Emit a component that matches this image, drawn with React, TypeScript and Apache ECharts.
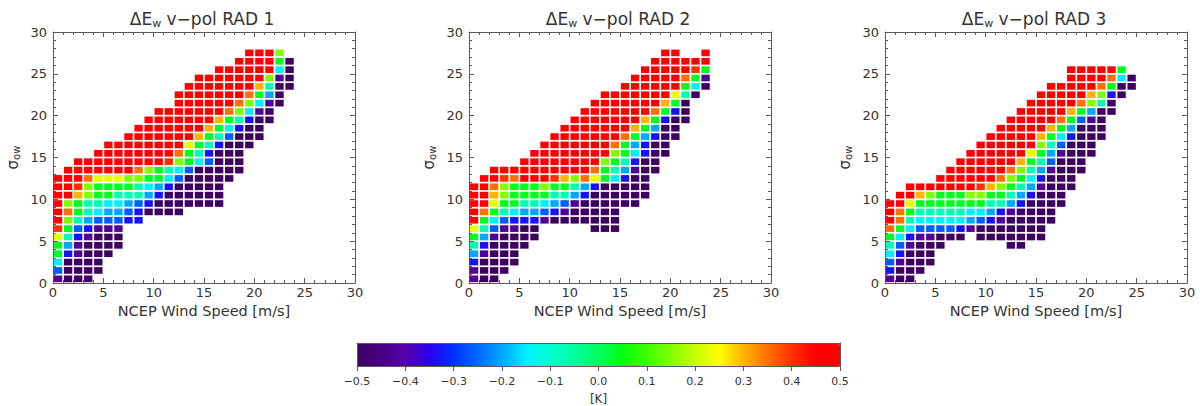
import React, { useEffect, useRef } from "react";
import * as echarts from "echarts";

// colour levels (in K)
const P = -0.5, V = -0.42, B = -0.33, M = -0.26, L = -0.2, C = -0.15, A = -0.07;
const G = 0.04, Y1 = 0.15, Y = 0.23, O1 = 0.3, O = 0.35, R1 = 0.4, R = 0.5;

// each row: [sigma bin, first wind-speed bin, values...]
type Row = [number, number, number[]];

const rad1Rows: Row[] = [
  [0, 0, [V, P, P, P]],
  [1, 0, [M, P, P, P, P]],
  [2, 0, [C, P, P, P, P]],
  [3, 0, [G, B, V, P, P, P]],
  [4, 0, [G, L, V, P, P, P, P]],
  [5, 0, [Y, A, B, V, P, P, P]],
  [6, 0, [R1, G, M, B, V, V, V]],
  [7, 0, [R, Y1, A, L, M, M, M, B, B]],
  [8, 0, [R, O, G, A, C, L, L, M, B, P, P, P, P]],
  [9, 0, [R, Y1, G, A, A, C, C, L, M, B, P, P, P, P, P, P, P]],
  [10, 0, [R, R, O1, Y1, G, G, A, A, A, L, B, P, P, P, P, P, P]],
  [11, 0, [R, R, R1, Y1, G, G, G, G, A, C, L, B, P, P, P, P, P]],
  [12, 0, [R, R, R, O, Y, Y, Y, Y1, Y1, G, G, C, M, P, P, P, P, P]],
  [13, 1, [R, R, R, R, R, R, R, O, Y1, G, A, C, M, P, P, P, P, P]],
  [14, 2, [R, R, R, R, R, R, R, R, R, R1, Y1, G, C, M, P, P, P]],
  [15, 4, [R, R, R, R, R, R, R, R, O, G, A, B, P, P, P]],
  [16, 5, [R, R, R, R, R, R, R, R, Y, G, A, B, P, P, P]],
  [17, 7, [R, R, R, R, R, R, R, O1, G, A, M, P, P, P]],
  [18, 8, [R, R, R, R, R, R, R, O1, G, C, B, P, P]],
  [19, 9, [R, R, R, R, R, R, R, O1, G, A, B, P, P]],
  [20, 10, [R, R, R, R, R, R, R, O, Y1, C, V, P]],
  [21, 12, [R, R, R, R, R, R, O, Y1, C, V, P]],
  [22, 12, [R, R, R, R, R, R, R, O, G, L, P]],
  [23, 13, [R, R, R, R, R, R, R, O1, A, P, P]],
  [24, 14, [R, R, R, R, R, R, R, Y1, V, P]],
  [25, 16, [R, R, R, R, R, R, C, P]],
  [26, 18, [R, R, R, R, G, P]],
  [27, 19, [R, R, R, Y1]],
];

const rad2Rows: Row[] = [
  [0, 0, [V, P, P]],
  [1, 0, [V, P, P, P]],
  [2, 0, [B, P, P, P, P]],
  [3, 0, [L, V, P, P, P]],
  [4, 0, [A, B, P, P, P, P]],
  [5, 0, [G, L, V, P, P, P, P]],
  [6, 0, [Y, A, M, V, V, P, P]],
  [6, 12, [P, P, P]],
  [7, 0, [R, G, C, M, B, B, B, V, P, P, P, P, P, P, P]],
  [8, 0, [R, O, G, A, C, L, L, M, B, V, P, P, P, P, P]],
  [9, 0, [R, R, Y, G, G, A, A, C, L, M, V, P, P, P, P, P, P]],
  [10, 0, [R, R, O1, Y1, G, G, G, G, A, A, L, B, P, P, P, P, P, P]],
  [11, 0, [R, R, O, Y1, G, G, G, Y1, G, G, A, L, B, P, P, P, P, P]],
  [12, 1, [R, R, R1, O, R, R, R, R1, O1, Y1, O, Y, G, C, B, P, P]],
  [13, 2, [R, R, R, R, R, R, R, R, R, R, O, G, A, L, V, P, P]],
  [14, 5, [R, R, R, R, R, R, R, R, Y1, G, A, B, P, P]],
  [15, 6, [R, R, R, R, R, R, R, R, Y1, G, C, B, P, P]],
  [16, 7, [R, R, R, R, R, R, R, O, G, L, B, P, P]],
  [17, 8, [R, R, R, R, R, R, R, O, G, L, B, P, P]],
  [18, 9, [R, R, R, R, R, R, R, O1, G, L, P, P]],
  [19, 10, [R, R, R, R, R, R, R, O1, G, B, P, P]],
  [20, 11, [R, R, R, R, R, R, R, O, G, B, P]],
  [21, 12, [R, R, R, R, R, R, R, O1, G, P]],
  [22, 13, [R, R, R, R, R, R, R, Y, A, P]],
  [23, 15, [R, R, R, R, R, R, G, C, P]],
  [24, 16, [R, R, R, R, R, O, G, V]],
  [25, 17, [R, R, R, R, R, R1, G]],
  [26, 18, [R, R, R, R, R, R]],
  [27, 19, [R, R]],
  [27, 23, [R]],
];

const rad3Rows: Row[] = [
  [0, 0, [V, P, P]],
  [1, 0, [B, P, P, P]],
  [2, 0, [M, V, P, P, P]],
  [3, 0, [C, B, P, P, P]],
  [4, 0, [A, M, V, P, P, P]],
  [4, 12, [P, P]],
  [5, 0, [G, C, B, V, V, P, P, P]],
  [5, 9, [P, P, P, P, P, P, P]],
  [6, 0, [O, G, C, M, M, M, M, B, V, P, P, P, P, P, P, P]],
  [7, 0, [R, O, A, C, C, C, C, C, L, M, B, V, P, P, P, P, P]],
  [8, 0, [R, O, G, A, A, A, A, A, C, C, L, B, V, P, P, P, P]],
  [9, 0, [R, R, Y, G, G, G, G, G, G, G, A, A, L, B, P, P, P, P]],
  [10, 1, [R, R, O1, Y1, G, G, G, Y1, Y1, G, G, A, L, B, P, P, P]],
  [11, 2, [R, R, R, R, R, R, R, R1, O1, Y1, G, A, L, V, P, P, P]],
  [12, 5, [R, R, R, R, R, R, O, Y1, G, C, B, P, P, P]],
  [13, 6, [R, R, R, R, R, R, O, Y1, A, L, V, P, P, P]],
  [14, 7, [R, R, R, R, R, R, O1, G, A, M, P, P, P]],
  [15, 8, [R, R, R, R, R, R, Y, G, L, V, P, P, P]],
  [16, 9, [R, R, R, R, R, R, Y1, A, M, P, P, P]],
  [17, 10, [R, R, R, R, R, O1, G, C, B, P, P, P]],
  [18, 11, [R, R, R, R, R, O1, G, L, P, P, P]],
  [19, 12, [R, R, R, R, R, O, G, M, V, P]],
  [20, 13, [R, R, R, R, R, O1, G, L, P, P]],
  [21, 14, [R, R, R, R, R, O, Y1, A, P]],
  [22, 15, [R, R, R, R, R, O1, Y1, B, P]],
  [23, 16, [R, R, R, R, R, O, G, P, P]],
  [24, 18, [R, R, R, R, O, C, P]],
  [25, 18, [R, R, R, R, R, G]],
];

const panelRows = [rad1Rows, rad2Rows, rad3Rows];
const panelTitles = ["RAD 1", "RAD 2", "RAD 3"];

// colour bar stops, every 0.05 K from -0.5 to 0.5
const colorStops = [
  "#3d0060", "#480080", "#5800a8", "#2800f0", "#0030ff", "#0068ff", "#00a8ff",
  "#00f0ff", "#00ffd0", "#00ffa0", "#00ff60", "#00ff10", "#40ff00", "#80ff00",
  "#c8ff00", "#ffff00", "#ffb400", "#ff7000", "#ff3000", "#ff0000", "#ff0000",
];

const FONT = "DejaVu Sans";
const TXT = "#333";
const AX = "#5a5a5a";
const LEFTS = [53, 469, 885];
const TOP = 32;
const W = 302;
const H = 251;

function cells(rows: Row[]) {
  const out: number[][] = [];
  rows.forEach(([j, s, vals]) => vals.forEach((v, k) => out.push([s + k, j, v])));
  return out;
}

function renderCell(params: any, api: any) {
  const x = api.value(0);
  const y = api.value(1);
  const p0 = api.coord([x, y + 1]);
  const p1 = api.coord([x + 1, y]);
  const g = 0.85;
  return {
    type: "rect",
    shape: { x: p0[0] + g, y: p0[1] + g, width: p1[0] - p0[0] - 2 * g, height: p1[1] - p0[1] - 2 * g },
    style: { fill: api.visual("color") },
  };
}

function buildOption() {
  const grid: any[] = [];
  const xAxis: any[] = [];
  const yAxis: any[] = [];
  const series: any[] = [];
  const graphic: any[] = [];
  const line = { show: true, onZero: false, lineStyle: { color: AX, width: 1 } };
  const tick = { show: true, inside: true, length: 5, lineStyle: { color: AX, width: 1 } };
  const minor = { show: true, splitNumber: 5, length: 3, lineStyle: { color: AX, width: 1 } };
  const label = { color: TXT, fontSize: 13, fontFamily: FONT };

  LEFTS.forEach((left, i) => {
    grid.push({ left, top: TOP, width: W, height: H, containLabel: false });
    xAxis.push({
      type: "value", gridIndex: i, min: 0, max: 30, interval: 5, position: "bottom",
      axisLine: line, axisTick: tick, minorTick: minor, splitLine: { show: false },
      axisLabel: { ...label, margin: 3 },
      name: "NCEP Wind Speed [m/s]", nameLocation: "middle", nameGap: 16,
      nameTextStyle: { color: TXT, fontSize: 14.5, fontFamily: FONT },
    });
    xAxis.push({
      type: "value", gridIndex: i, min: 0, max: 30, interval: 5, position: "top",
      axisLine: line, axisTick: tick, minorTick: minor, splitLine: { show: false },
      axisLabel: { show: false },
    });
    yAxis.push({
      type: "value", gridIndex: i, min: 0, max: 30, interval: 5, position: "left",
      axisLine: line, axisTick: tick, minorTick: minor, splitLine: { show: false },
      axisLabel: { ...label, margin: 6 },
      name: "{a|σ}{s|ow}", nameLocation: "middle", nameGap: 32, nameRotate: 90,
      nameTextStyle: {
        rich: {
          a: { fontSize: 15, fontFamily: FONT, color: TXT },
          s: { fontSize: 10, fontFamily: FONT, color: TXT, verticalAlign: "bottom", padding: [6, 0, 0, 0] },
        },
      },
    });
    yAxis.push({
      type: "value", gridIndex: i, min: 0, max: 30, interval: 5, position: "right",
      axisLine: line, axisTick: tick, minorTick: minor, splitLine: { show: false },
      axisLabel: { show: false },
    });
    series.push({
      type: "custom", xAxisIndex: 2 * i, yAxisIndex: 2 * i,
      renderItem: renderCell, encode: { x: 0, y: 1 },
      data: cells(panelRows[i]),
    });
    graphic.push({
      type: "text", x: left + W / 2 - 2, y: 19,
      style: {
        text: "{a|ΔE}{s|w}{a| v−pol " + panelTitles[i] + "}",
        align: "center", verticalAlign: "middle",
        rich: {
          a: { fontSize: 17, fontFamily: FONT, fill: TXT },
          s: { fontSize: 11, fontFamily: FONT, fill: TXT, verticalAlign: "bottom", padding: [8, 0, 0, 0] },
        },
      },
    });
  });

  // colour bar frame and scale
  grid.push({ left: 357, top: 343, width: 483, height: 24 });
  xAxis.push({
    type: "value", gridIndex: 3, min: -0.5, max: 0.5, interval: 0.1, position: "bottom", z: 10,
    axisLine: line, axisTick: { show: true, inside: false, length: 5, lineStyle: { color: AX } },
    splitLine: { show: false },
    axisLabel: {
      color: TXT, fontSize: 11, fontFamily: FONT, margin: 10,
      formatter: (v: number) => (Math.abs(v) < 1e-9 ? "0.0" : (v < 0 ? "−" : "") + Math.abs(v).toFixed(1)),
    },
    name: "[K]", nameLocation: "middle", nameGap: 27,
    nameTextStyle: { color: TXT, fontSize: 12, fontFamily: FONT },
  });
  xAxis.push({
    type: "value", gridIndex: 3, min: -0.5, max: 0.5, position: "top", z: 10,
    axisLine: line, axisTick: { show: false }, axisLabel: { show: false }, splitLine: { show: false },
  });
  yAxis.push({
    type: "value", gridIndex: 3, min: 0, max: 1, position: "left", z: 10,
    axisLine: line, axisTick: { show: false }, axisLabel: { show: false }, splitLine: { show: false },
  });
  yAxis.push({
    type: "value", gridIndex: 3, min: 0, max: 1, position: "right", z: 10,
    axisLine: line, axisTick: { show: false }, axisLabel: { show: false }, splitLine: { show: false },
  });

  return {
    animation: false,
    backgroundColor: "#fff",
    grid, xAxis, yAxis, series, graphic,
    visualMap: {
      type: "continuous", min: -0.5, max: 0.5, seriesIndex: [0, 1, 2], dimension: 2,
      orient: "horizontal", left: 357, top: 343, itemWidth: 24, itemHeight: 483,
      padding: 0, calculable: false, hoverLink: false, realtime: false,
      inRange: { color: colorStops },
      textStyle: { color: "transparent" },
    },
  };
}

export default function App() {
  const ref = useRef<HTMLDivElement>(null);
  useEffect(() => {
    const chart = echarts.init(ref.current as HTMLDivElement, null, { renderer: "svg" });
    chart.setOption(buildOption() as any);
    return () => chart.dispose();
  }, []);
  return (
    <div
      ref={ref}
      style={{ position: "absolute", left: 0, top: 0, width: 1200, height: 406, background: "#fff" }}
    />
  );
}
